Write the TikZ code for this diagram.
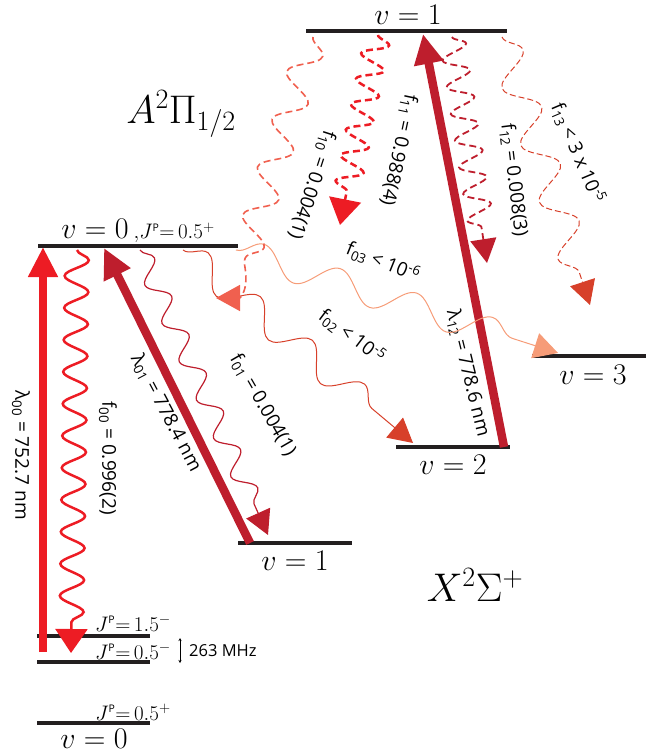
\RequirePackage{fix-cm}
\documentclass[tikz,border=0pt]{standalone}
\usepackage{fontspec}
\setsansfont{Open Sans}
\usetikzlibrary{arrows.meta,decorations.pathmorphing}
\definecolor{levelblack}{HTML}{231F20}
\definecolor{laserred}{HTML}{ED1C24}
\definecolor{deepred}{HTML}{BE1E2D}
\definecolor{brickred}{HTML}{D7402A}
\definecolor{coralred}{HTML}{F0604F}
\definecolor{peach}{HTML}{F69C78}
\newcommand{\jp}[1]{$J^{\scriptscriptstyle\mathsf{P}}{=}\,#1$}
\tikzset{
  statebar/.style={line width=3.5pt, draw=levelblack},
  pump/.style={line width=8.5pt, -{Triangle[length=30pt,width=28pt]}},
  decay/.style={decorate, -{Triangle[length=24pt,width=26pt]}},
  lab/.style={font=\sffamily\fontsize{19}{21}\selectfont, inner sep=0pt},
  statelab/.style={font=\fontsize{30}{34}\selectfont, inner sep=0pt},
  jlab/.style={font=\fontsize{21}{24}\selectfont, inner sep=0pt},
  termlab/.style={font=\fontsize{40}{44}\selectfont, inner sep=0pt},
}
\begin{document}
\begin{tikzpicture}[x=1pt, y=-1pt]
\useasboundingbox (0,0) rectangle (647,754);
% Energy levels
\coordinate (A0w) at (38,246);  \coordinate (A0e) at (238,246);
\coordinate (A1w) at (306,31);  \coordinate (A1e) at (507,31);
\coordinate (X0w) at (37,723);  \coordinate (X0e) at (150,723);
\coordinate (Xmw) at (37,662);  \coordinate (Xme) at (150,662);
\coordinate (Xuw) at (37,636);  \coordinate (Xue) at (150,636);
\coordinate (X1w) at (238,543); \coordinate (X1e) at (352,543);
\coordinate (X2w) at (396,447); \coordinate (X2e) at (510,447);
\coordinate (X3w) at (532,356); \coordinate (X3e) at (646,356);
\foreach \a/\b in {A0w/A0e, A1w/A1e, X0w/X0e, Xmw/Xme, Xuw/Xue, X1w/X1e, X2w/X2e, X3w/X3e}
  \draw[statebar] (\a) -- (\b);
% Level labels
\node[statelab] (lA0) at (138,231) {$v = 0$\,{\fontsize{21}{24}\selectfont$,$\jp{0.5^{+}}}};
\node[statelab] (lA1) at (408,15) {$v = 1$};
\node[statelab] (lX1) at (295,561) {$v = 1$};
\node[statelab] (lX2) at (453,465) {$v = 2$};
\node[statelab] (lX3) at (593,375) {$v = 3$};
\node[statelab] (lX0) at (94,739) {$v = 0$};
\node[jlab] (jX0) at (133,712) {\jp{0.5^{+}}};
\node[jlab] (jXm) at (133,651) {\jp{0.5^{-}}};
\node[jlab] (jXu) at (133,623) {\jp{1.5^{-}}};
\node[termlab] (tA) at (181,114) {$A^2\Pi_{1/2}$};
\node[termlab] (tX) at (475,585) {$X^2\Sigma^{+}$};
% Hyperfine splitting
\coordinate (hfT) at (180,638); \coordinate (hfB) at (180,663);
\draw[line width=0.8pt, {Stealth[length=3pt,width=3pt]}-{Stealth[length=3pt,width=3pt]}] (hfT) -- (hfB);
\node[lab, font=\sffamily\fontsize{16.5}{18}\selectfont, anchor=west] (hf) at (189,651) {263 MHz};
% Pump lasers
\coordinate (p00a) at (43,652);  \coordinate (p00b) at (43,247);
\coordinate (p01a) at (250,543); \coordinate (p01b) at (104,248);
\coordinate (p12a) at (504,447); \coordinate (p12b) at (423,34);
\draw[pump, laserred] (p00a) -- (p00b);
\draw[pump, deepred] (p01a) -- (p01b);
\draw[pump, deepred] (p12a) -- (p12b);
\node[lab, rotate=-90] (l00) at (21,455) {λ\textsubscript{00} = 752.7 nm};
\node[lab, rotate=-62] (l01) at (166,413) {λ\textsubscript{01} = 778.4 nm};
\node[lab, rotate=-76] (l12) at (468,373) {λ\textsubscript{12} = 778.6 nm};
% Decays from A, v=0
\coordinate (f00a) at (77,250);  \coordinate (f00b) at (71,653);
\coordinate (f01a) at (140,250); \coordinate (f01b) at (268,535);
\coordinate (f02a) at (183,250); \coordinate (f02b) at (413,443);
\coordinate (f03a) at (236,250); \coordinate (f03b) at (558,353);
\draw[decay, laserred, line width=2.5pt, -{Triangle[length=24pt,width=32pt]},
  decoration={snake, amplitude=12pt, segment length=32pt, post length=26pt}] (f00a) -- (f00b);
\draw[decay, deepred, line width=1.2pt,
  decoration={snake, amplitude=10pt, segment length=42pt, post length=26pt}] (f01a) -- (f01b);
\draw[decay, brickred, line width=1pt,
  decoration={snake, amplitude=14pt, segment length=68pt, post length=28pt}] (f02a) -- (f02b);
\draw[decay, peach, line width=1pt,
  decoration={snake, amplitude=14pt, segment length=80pt, post length=28pt}] (f03a) -- (f03b);
\node[lab, rotate=-90] (n00) at (108,458) {f\textsubscript{00} = 0.996(2)};
\node[lab, rotate=-60] (n01) at (263,405) {f\textsubscript{01} = 0.004(1)};
\node[lab, rotate=-37] (n02) at (352,336) {f\textsubscript{02} < 10\textsuperscript{-5}};
\node[lab, rotate=-22] (n03) at (383,262) {f\textsubscript{03} < 10\textsuperscript{-6}};
% Decays from A, v=1
\coordinate (f10a) at (313,37);  \coordinate (f10b) at (244,262); \coordinate (f10c) at (216,298);
\coordinate (f11a) at (378,35);  \coordinate (f11b) at (340,225);
\coordinate (f12a) at (452,37);  \coordinate (f12b) at (487,263);
\coordinate (f13a) at (502,37);  \coordinate (f13b) at (590,305);
\draw[coralred, line width=1.6pt, dash pattern=on 7pt off 4pt, -{Triangle[length=24pt,width=26pt]}]
  (f10a) decorate[decoration={snake, amplitude=15pt, segment length=50pt}] {-- (f10b)}
  .. controls (250,290) and (240,298) .. (f10c);
\draw[decay, laserred, line width=2.5pt, dash pattern=on 7pt off 4pt, -{Triangle[length=26pt,width=32pt]},
  decoration={snake, amplitude=13pt, segment length=26pt, post length=28pt}] (f11a) -- (f11b);
\draw[decay, deepred, line width=1.8pt, dash pattern=on 7pt off 4pt,
  decoration={snake, amplitude=13pt, segment length=27pt, post length=26pt}] (f12a) -- (f12b);
\draw[decay, brickred, line width=1pt, dash pattern=on 6pt off 3pt,
  decoration={snake, amplitude=16pt, segment length=60pt, post length=28pt}] (f13a) -- (f13b);
\node[lab, rotate=-108] (n10) at (312,185) {f\textsubscript{10} = 0.004(1)};
\node[lab, rotate=-102] (n11) at (399,150) {f\textsubscript{11} = 0.988(4)};
\node[lab, rotate=-83] (n12) at (514,180) {f\textsubscript{12} = 0.008(3)};
\node[lab, rotate=-67] (n13) at (578,153) {f\textsubscript{13} < 3 x 10\textsuperscript{-5}};
\end{tikzpicture}
\end{document}
